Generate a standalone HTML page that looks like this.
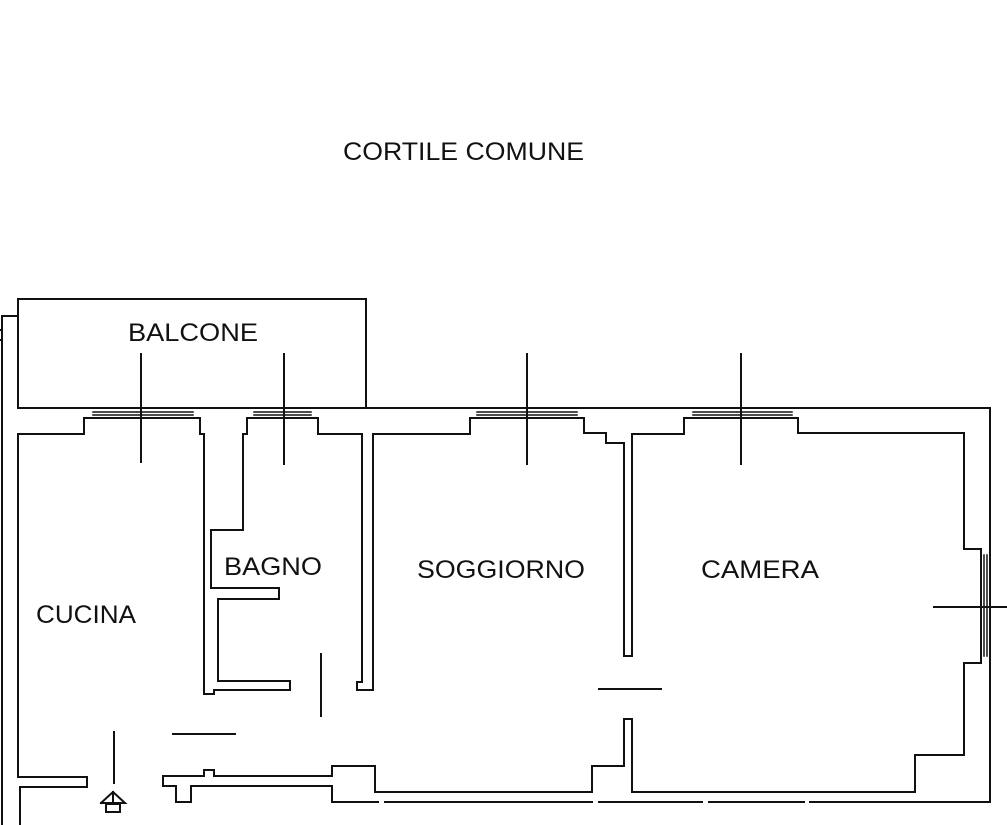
<!DOCTYPE html>
<html><head><meta charset="utf-8"><style>html,body{margin:0;padding:0;background:#fff}svg{display:block}</style></head><body>
<svg width="1007" height="825" viewBox="0 0 1007 825" xmlns="http://www.w3.org/2000/svg">
<g fill="none" stroke="#111" stroke-width="2" stroke-linecap="square">
<!-- left strip -->
<polyline points="18,316 2,316 2,825"/>
<line x1="0" y1="330" x2="2" y2="330"/><line x1="0" y1="340" x2="2" y2="340"/>
<!-- balcony -->
<rect x="18" y="299" width="348" height="109"/>
<!-- outer top/right -->
<polyline points="18,408 990,408 990,802 810,802"/>
<line x1="804" y1="802" x2="709" y2="802"/>
<line x1="702" y1="802" x2="599" y2="802"/>
<line x1="592" y1="802" x2="385" y2="802"/>
<line x1="378" y1="802" x2="332" y2="802"/>
<!-- kitchen -->
<polyline points="20,825 20,787 87,787 87,777 18,777 18,434 84,434 84,418 93,418 193,418 200,418 200,434 204,434 204,694 214,694 214,690 290,690 290,681 218,681 218,599 279,599 279,588 211,588 211,530 243,530 243,434 247,434 247,418 318,418 318,434 362,434 362,682 357,682 357,690 373,690 373,434 470,434 470,418 584,418 584,433 606,433 606,443 624,443 624,656 632,656 632,434 684,434 684,418 798,418 798,433 964,433 964,549 981,549 981,663 964,663 964,755 915,755 915,792 632,792 632,719 624,719 624,766 592,766 592,792 375,792 375,766 332,766 332,776 214,776 214,770 204,770 204,776 163,776 163,786 176,786 176,802 191,802 191,786 332,786 332,802"/>
<!-- windows glass -->
<g stroke-width="1.5">
<line x1="93" y1="412" x2="193" y2="412"/><line x1="93" y1="415" x2="193" y2="415"/>
<line x1="254" y1="412" x2="311" y2="412"/><line x1="254" y1="415" x2="311" y2="415"/>
<line x1="477" y1="412" x2="577" y2="412"/><line x1="477" y1="415" x2="577" y2="415"/>
<line x1="693" y1="412" x2="792" y2="412"/><line x1="693" y1="415" x2="792" y2="415"/>
<line x1="984" y1="555" x2="984" y2="656"/><line x1="987" y1="555" x2="987" y2="656"/>
</g>
<!-- window crosses -->
<line x1="141" y1="354" x2="141" y2="462"/>
<line x1="284" y1="354" x2="284" y2="464"/>
<line x1="527" y1="354" x2="527" y2="464"/>
<line x1="741" y1="354" x2="741" y2="464"/>
<line x1="934" y1="607" x2="1007" y2="607"/>
<!-- doors -->
<line x1="321" y1="654" x2="321" y2="716"/>
<line x1="173" y1="734" x2="235" y2="734"/>
<line x1="114" y1="732" x2="114" y2="783"/>
<line x1="599" y1="689" x2="661" y2="689"/>
<!-- entrance icon -->
<polyline points="101,803 113,792 125,803 101,803" stroke-width="2"/>
<line x1="113" y1="792" x2="113" y2="803"/>
<rect x="106" y="804" width="14" height="8" stroke-width="2"/>
</g>
<g font-family="Liberation Sans, sans-serif" font-size="25" fill="#111" stroke="none">
<text x="343" y="160" textLength="241" lengthAdjust="spacingAndGlyphs">CORTILE COMUNE</text>
<text x="128" y="341" textLength="130" lengthAdjust="spacingAndGlyphs">BALCONE</text>
<text x="224" y="575" textLength="98" lengthAdjust="spacingAndGlyphs">BAGNO</text>
<text x="417" y="578" textLength="168" lengthAdjust="spacingAndGlyphs">SOGGIORNO</text>
<text x="701" y="578" textLength="118" lengthAdjust="spacingAndGlyphs">CAMERA</text>
<text x="36" y="623" textLength="100" lengthAdjust="spacingAndGlyphs">CUCINA</text>
</g>
</svg>
</body></html>
